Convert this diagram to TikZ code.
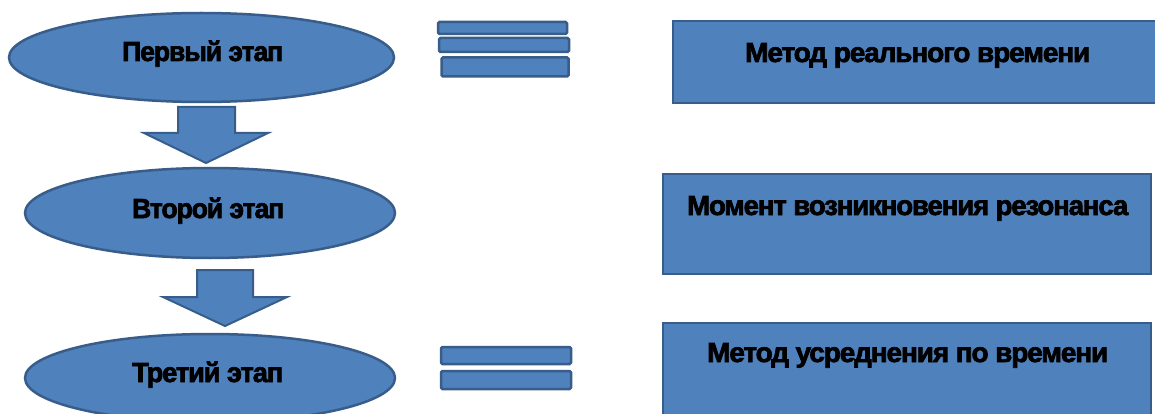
\documentclass[tikz,border=0pt]{standalone}
\usepackage{fontspec}
\setmainfont{Liberation Sans}
\newfontfamily\heavyfont{Liberation Sans}[BoldFeatures={FakeBold=2.5,LetterSpace=-4}]
\usetikzlibrary{shapes.geometric}
\definecolor{fillblue}{HTML}{4F81BD}
\definecolor{edgeblue}{HTML}{385D8A}
\tikzset{
  stage/.style={ellipse, draw=edgeblue, fill=fillblue, line width=2.5pt, inner sep=0pt},
  methodbox/.style={rectangle, draw=edgeblue, fill=fillblue, line width=2.5pt, inner sep=0pt},
  eqbar/.style={rectangle, draw=edgeblue, fill=fillblue, line width=2.5pt, rounded corners=1.5pt, inner sep=0pt},
  blockarrow/.style={draw=edgeblue, fill=fillblue, line width=2pt, line join=miter},
  lbl/.style={anchor=base west, inner sep=0pt, text=black, font=\heavyfont\bfseries\fontsize{27.5}{27.5}\selectfont},
}
\newcommand\fitw[2]{\resizebox{#1pt}{\height}{#2}}
\begin{document}
\begin{tikzpicture}[x=1pt,y=-1pt]
\path[use as bounding box, fill=white] (0,0) rectangle (1155,414);
\begin{scope}
\clip (0,0) rectangle (1155,414);
% stages
\node[stage, minimum width=385pt, minimum height=89pt] (e1) at (201.5,57.5) {};
\node[stage, minimum width=370pt, minimum height=90pt] (e2) at (210,213) {};
\node[stage, minimum width=370pt, minimum height=88pt] (e3) at (210,378) {};
% block arrows
\draw[blockarrow] (178,107) -- (235,107) -- (235,133) -- (268,133) -- (206,163) -- (144,133) -- (178,133) -- cycle;
\draw[blockarrow] (197,270) -- (253,270) -- (253,297) -- (287,297) -- (225,326) -- (163,297) -- (197,297) -- cycle;
% equals bars
\node[eqbar, minimum width=129pt, minimum height=12pt] (b1) at (502.5,28) {};
\node[eqbar, minimum width=130pt, minimum height=14pt] (b2) at (504,45) {};
\node[eqbar, minimum width=127pt, minimum height=19pt] (b3) at (505,67) {};
\node[eqbar, minimum width=130pt, minimum height=17pt] (b4) at (506,355.5) {};
\node[eqbar, minimum width=130pt, minimum height=18pt] (b5) at (506,380) {};
% method boxes
\node[methodbox, minimum width=491pt, minimum height=82pt] (r1) at (918.5,62) {};
\node[methodbox, minimum width=488pt, minimum height=100pt] (r2) at (907,224) {};
\node[methodbox, minimum width=488pt, minimum height=96pt] (r3) at (907,371) {};
% texts
\node[lbl] (t1) at (122,61) {\fitw{161}{Первый этап}};
\node[lbl] (t2) at (132,218) {\fitw{152}{Второй этап}};
\node[lbl] (t3) at (132,382) {\fitw{151}{Третий этап}};
\node[lbl] (m1) at (745,62) {\fitw{345}{Метод реального времени}};
\node[lbl] (m2) at (687,215) {\fitw{441}{Момент возникновения резонанса}};
\node[lbl] (m3) at (707,362) {\fitw{401}{Метод усреднения по времени}};
\end{scope}
\end{tikzpicture}
\end{document}
